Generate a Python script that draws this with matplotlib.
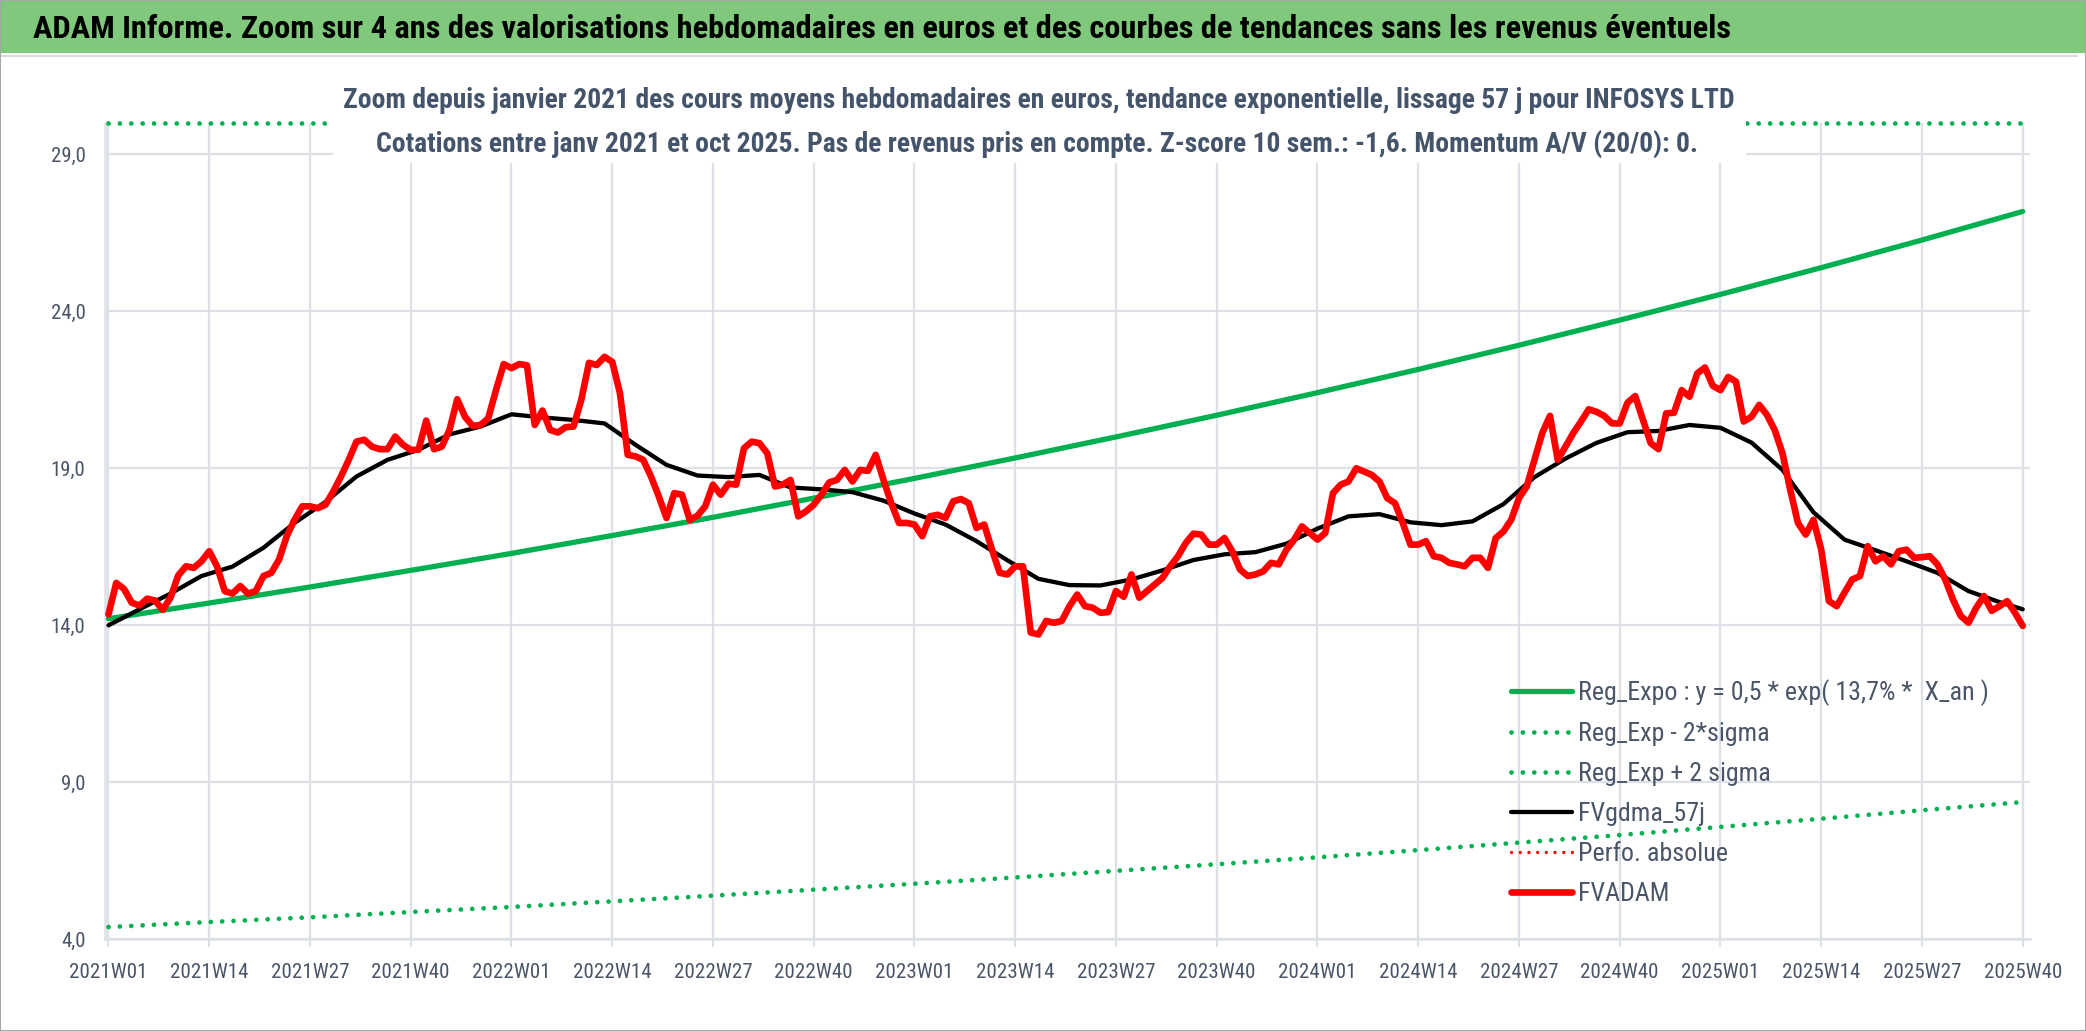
import matplotlib
matplotlib.use("Agg")
import matplotlib.pyplot as plt
from matplotlib import font_manager as fm
from matplotlib.patches import Rectangle
from matplotlib.ticker import FuncFormatter, FixedLocator

# ---------------- data ----------------
tick_labels = ["2021W01", "2021W14", "2021W27", "2021W40", "2022W01", "2022W14", "2022W27",
               "2022W40", "2023W01", "2023W14", "2023W27", "2023W40", "2024W01", "2024W14",
               "2024W27", "2024W40", "2025W01", "2025W14", "2025W27", "2025W40"]
tick_weeks = [0, 13, 26, 39, 52, 65, 78, 91, 104, 117, 130, 143, 156, 169, 182, 195, 208, 221, 234, 247]

fvadam = [
    14.34, 15.34, 15.15, 14.71, 14.62, 14.84, 14.78, 14.48, 14.87, 15.58,
    15.87, 15.82, 16.03, 16.35, 15.87, 15.08, 15.00, 15.24, 15.00, 15.08,
    15.56, 15.66, 16.08, 16.83, 17.35, 17.78, 17.78, 17.72, 17.83, 18.25,
    18.73, 19.26, 19.84, 19.90, 19.68, 19.60, 19.60, 20.00, 19.74, 19.58,
    19.58, 20.51, 19.60, 19.68, 20.21, 21.19, 20.63, 20.34, 20.37, 20.58,
    21.48, 22.31, 22.18, 22.31, 22.27, 20.37, 20.83, 20.21, 20.13, 20.30,
    20.32, 21.16, 22.35, 22.28, 22.54, 22.38, 21.38, 19.42, 19.37, 19.26,
    18.73, 18.10, 17.41, 18.20, 18.15, 17.35, 17.48, 17.78, 18.47, 18.15,
    18.50, 18.47, 19.63, 19.84, 19.79, 19.47, 18.41, 18.47, 18.62, 17.46,
    17.62, 17.83, 18.15, 18.54, 18.62, 18.94, 18.57, 18.94, 18.91, 19.42,
    18.62, 17.88, 17.25, 17.25, 17.20, 16.83, 17.46, 17.51, 17.41, 17.94,
    18.01, 17.88, 17.09, 17.20, 16.40, 15.66, 15.61, 15.87, 15.87, 13.76,
    13.70, 14.13, 14.07, 14.13, 14.60, 14.97, 14.60, 14.55, 14.39, 14.41,
    15.08, 14.90, 15.61, 14.87, 15.08, 15.29, 15.50, 15.87, 16.19, 16.61,
    16.91, 16.88, 16.56, 16.56, 16.77, 16.35, 15.77, 15.56, 15.61, 15.71,
    15.98, 15.93, 16.40, 16.72, 17.14, 16.93, 16.72, 16.93, 18.20, 18.47,
    18.57, 18.99, 18.89, 18.78, 18.57, 18.04, 17.88, 17.25, 16.56, 16.56,
    16.67, 16.19, 16.14, 15.98, 15.93, 15.87, 16.14, 16.14, 15.82, 16.77,
    16.98, 17.35, 18.04, 18.41, 19.26, 20.11, 20.66, 19.26, 19.68, 20.11,
    20.48, 20.87, 20.79, 20.66, 20.42, 20.42, 21.08, 21.29, 20.53, 19.79,
    19.60, 20.74, 20.76, 21.48, 21.27, 22.01, 22.20, 21.62, 21.48, 21.90,
    21.75, 20.48, 20.63, 21.01, 20.69, 20.21, 19.47, 18.31, 17.25, 16.88,
    17.35, 16.40, 14.76, 14.60, 15.03, 15.45, 15.56, 16.51, 16.03, 16.19,
    15.93, 16.35, 16.40, 16.14, 16.16, 16.19, 15.93, 15.45, 14.81, 14.29,
    14.07, 14.55, 14.92, 14.45, 14.60, 14.76, 14.39, 13.97,
]

gdma_weeks = [0, 4, 8, 12, 16, 20, 24, 28, 32, 36, 40, 44, 48, 52, 56, 60, 64, 68, 72, 76,
              80, 84, 88, 92, 96, 100, 104, 108, 112, 116, 120, 124, 128, 132, 136, 140,
              144, 148, 152, 156, 160, 164, 168, 172, 176, 180, 184, 188, 192, 196, 200,
              204, 208, 212, 216, 220, 224, 228, 232, 236, 240, 244, 247]
fvgdma_57j = [13.99, 14.50, 15.00, 15.56, 15.86, 16.46, 17.25, 17.92, 18.73, 19.26, 19.58,
              20.07, 20.32, 20.71, 20.61, 20.53, 20.42, 19.74, 19.10, 18.76, 18.71, 18.78,
              18.38, 18.32, 18.23, 17.96, 17.55, 17.20, 16.67, 16.06, 15.47, 15.27, 15.26,
              15.45, 15.74, 16.07, 16.25, 16.32, 16.59, 17.07, 17.46, 17.53, 17.27, 17.18,
              17.30, 17.85, 18.71, 19.30, 19.80, 20.14, 20.18, 20.37, 20.28, 19.81, 18.94,
              17.59, 16.72, 16.38, 16.03, 15.66, 15.08, 14.73, 14.50]

reg_expo = [14.20, 14.70, 15.21, 15.74, 16.28, 16.85, 17.43, 18.04, 18.67, 19.32,
            19.99, 20.68, 21.40, 22.14, 22.91, 23.71, 24.53, 25.38, 26.26, 27.17]
reg_minus_2s = [4.38, 4.54, 4.69, 4.86, 5.02, 5.20, 5.38, 5.57, 5.76, 5.96,
                6.17, 6.38, 6.60, 6.83, 7.07, 7.31, 7.57, 7.83, 8.10, 8.36]
reg_plus_2s = [30.0, 30.0, 30.0, 30.0, 30.0, 30.0, 30.0, 30.0, 30.0, 30.0,
               30.0, 30.0, 30.0, 30.0, 30.0, 30.0, 30.0, 30.0, 30.0, 30.0]

title = ("ADAM Informe. Zoom sur 4 ans des valorisations hebdomadaires en euros et des "
         "courbes de tendances sans les revenus éventuels")
sub1 = ("Zoom depuis janvier 2021 des cours moyens hebdomadaires en euros, tendance "
        "exponentielle, lissage 57 j pour INFOSYS LTD")
sub2 = ("Cotations entre janv 2021 et oct 2025. Pas de revenus pris en compte. "
        "Z-score 10 sem.: -1,6. Momentum A/V (20/0): 0.")
legend_labels = ["Reg_Expo : y = 0,5 * exp( 13,7% *  X_an )", "Reg_Exp - 2*sigma",
                 "Reg_Exp + 2 sigma", "FVgdma_57j", "Perfo. absolue", "FVADAM"]

# ---------------- fonts ----------------
avail = {f.name for f in fm.fontManager.ttflist}
FAM = "DejaVu Sans"
for cand in ["Liberation Sans Narrow", "Roboto Condensed", "Open Sans Condensed",
             "Liberation Sans", "Lato"]:
    if cand in avail:
        FAM = cand
        break
plt.rcParams["font.family"] = [FAM, "DejaVu Sans"]

W, H = 2086, 1031
fig = plt.figure(figsize=(W / 100, H / 100), dpi=100)
fig.patch.set_facecolor("white")
renderer = fig.canvas.get_renderer()


def fx(px):
    return px / W


def fy(py):
    return 1 - py / H


def fit_size(s, target, weight="normal", base=20.0):
    t = fig.text(0, 0, s, fontsize=base, weight=weight)
    w = t.get_window_extent(renderer).width
    t.remove()
    return base * target / w


GREEN = "#00B050"
GRID = "#DDE1E7"
TXT = "#4A5568"
SUBC = "#44546A"

ax = fig.add_axes([fx(105), fy(939), fx(2030) - fx(105), fy(122.6) - fy(939)])
ax.set_xlim(-0.45, 247.94)
ax.set_ylim(4, 30)

dot = (0, (0.01, 2.4))
ax.plot(tick_weeks, reg_expo, color=GREEN, lw=3.8, solid_capstyle="round",
        label=legend_labels[0], zorder=3)
ax.plot(tick_weeks, reg_minus_2s, color=GREEN, lw=3.4, linestyle=dot,
        dash_capstyle="round", label=legend_labels[1], zorder=3)
ax.plot(tick_weeks, reg_plus_2s, color=GREEN, lw=3.4, linestyle=dot,
        dash_capstyle="round", label=legend_labels[2], zorder=3, clip_on=False)
ax.plot(gdma_weeks, fvgdma_57j, color="black", lw=3.1, solid_capstyle="round",
        solid_joinstyle="round", label=legend_labels[3], zorder=4)
ax.plot([], [], color="#FF0000", lw=2.4, linestyle=(0, (0.01, 2.6)),
        dash_capstyle="round", label=legend_labels[4])
ax.plot(range(len(fvadam)), fvadam, color="#FF0000", lw=4.8, solid_capstyle="round",
        solid_joinstyle="round", label=legend_labels[5], zorder=5)

# axes styling
for side in ["top", "right"]:
    ax.spines[side].set_visible(False)
for side in ["left", "bottom"]:
    ax.spines[side].set_color(GRID)
    ax.spines[side].set_linewidth(1.8)
ax.xaxis.set_major_locator(FixedLocator(tick_weeks))
ax.set_xticklabels(tick_labels)
ax.yaxis.set_major_locator(FixedLocator([4, 9, 14, 19, 24, 29]))
ax.yaxis.set_major_formatter(FuncFormatter(lambda v, _: f"{v:.1f}".replace(".", ",")))
ax.grid(True, color=GRID, lw=1.6, zorder=0)
ax.set_axisbelow(True)

xfs = fit_size("2021W01", 78)
yfs = fit_size("29,0", 35)
ax.tick_params(axis="x", length=5.5, width=1.4, color=GRID, labelsize=xfs,
               labelcolor=TXT, pad=11.5)
ax.tick_params(axis="y", length=0, labelsize=yfs, labelcolor=TXT, pad=14)

# legend
legfs = fit_size(legend_labels[0], 410)
legpx = legfs * 100 / 72
handles, labels = ax.get_legend_handles_labels()


def make_legend(spacing, anchor_y):
    return ax.legend(handles, labels, loc="upper left",
                     bbox_to_anchor=(fx(1511), fy(anchor_y)), bbox_transform=fig.transFigure,
                     frameon=False, fontsize=legfs, handlelength=61 / legpx,
                     handletextpad=6 / legpx, labelspacing=spacing, borderpad=0,
                     borderaxespad=0, labelcolor=TXT)


spacing = 0.5
anchor = 673.0
leg = make_legend(spacing, anchor)
for _ in range(2):
    fig.canvas.draw()
    cs = [H - (t.get_window_extent(renderer).y0 + t.get_window_extent(renderer).y1) / 2
          for t in leg.get_texts()]
    act = (cs[-1] - cs[0]) / (len(cs) - 1)
    spacing += (40.2 - act) / legpx
    anchor += 693 - cs[0]
    leg.remove()
    leg = make_legend(spacing, anchor)

# ---------------- decorations ----------------
fig.patches.append(Rectangle((0, fy(53)), 1, fy(1.5) - fy(53), transform=fig.transFigure,
                             facecolor="#80C87C", edgecolor="none", zorder=1))
fig.patches.append(Rectangle((0, fy(57)), fx(2078), fy(54.5) - fy(57),
                             transform=fig.transFigure, facecolor="#D9D9D9",
                             edgecolor="none", zorder=1))
fig.patches.append(Rectangle((fx(333), fy(163)), fx(1746) - fx(333), fy(62) - fy(163),
                             transform=fig.transFigure, facecolor="white",
                             edgecolor="none", zorder=5))
fig.patches.append(Rectangle((0, 0), 1, 1, transform=fig.transFigure, facecolor="none",
                             edgecolor="#A6A6A6", lw=1.5, zorder=20))

tfs = fit_size(title, 1695, weight="bold")
fig.text(fx(33), fy(38.3), title, ha="left", va="baseline", fontsize=tfs,
         weight="bold", color="black", zorder=10)
s1fs = fit_size(sub1, 1396, weight="bold")
s2fs = fit_size(sub2, 1321, weight="bold")
sfs = (s1fs + s2fs) / 2
fig.text(fx(1039), fy(108.3), sub1, ha="center", va="baseline", fontsize=sfs,
         weight="bold", color=SUBC, zorder=10)
fig.text(fx(1037.5), fy(151.7), sub2, ha="center", va="baseline", fontsize=sfs,
         weight="bold", color=SUBC, zorder=10)

fig.savefig("out.png", dpi=100)
